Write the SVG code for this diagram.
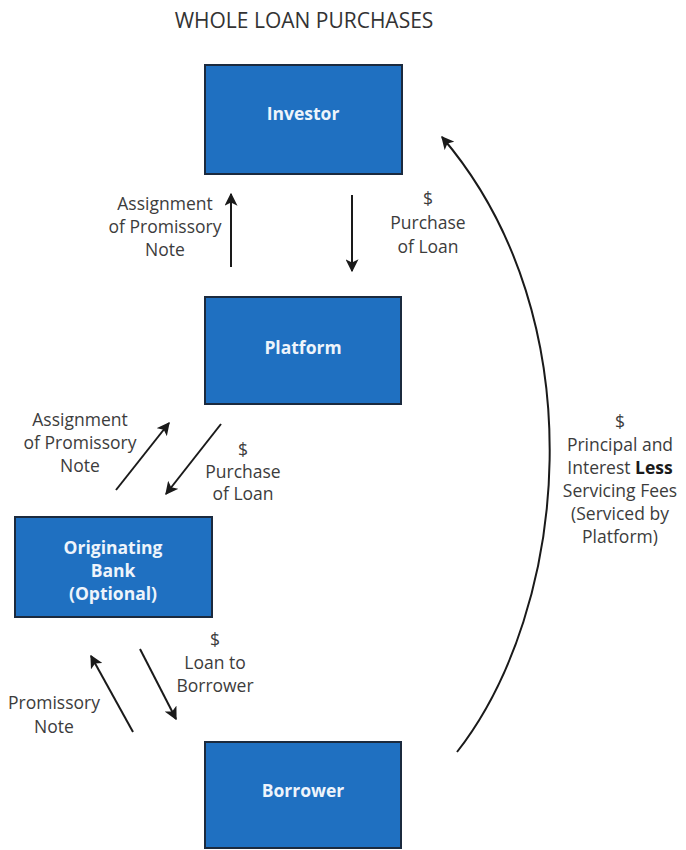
<svg xmlns="http://www.w3.org/2000/svg" width="686" height="850" viewBox="0 0 686 850">
  <defs>
    <marker id="arrow" viewBox="0 0 10 10" refX="9" refY="5" markerWidth="13" markerHeight="13" markerUnits="userSpaceOnUse" orient="auto">
      <path d="M0,0 L10,5 L0,10 L2.5,5 Z" fill="#1a1a1a"/>
    </marker>
    <style>
      .box { fill: #1f70c1; stroke: #1b2a3e; stroke-width: 2; }
      .boxText { font-family: "Open Sans", Lato, sans-serif; font-weight: bold; font-size: 17.5px; fill: #eef4fb; text-anchor: middle; }
      .label { font-family: "Open Sans", Lato, sans-serif; font-size: 17.5px; fill: #3c3c3c; text-anchor: middle; }
      .title { font-family: "Open Sans", Lato, sans-serif; font-size: 21px; fill: #333333; text-anchor: middle; }
      .conn { fill: none; stroke: #1a1a1a; stroke-width: 2; marker-end: url(#arrow); }
    </style>
  </defs>
  <rect width="686" height="850" fill="#ffffff"/>

  <text class="title" x="304" y="28">WHOLE LOAN PURCHASES</text>

  <g id="investor">
    <rect class="box" x="205" y="65" width="197" height="109"/>
    <text class="boxText" x="303" y="120">Investor</text>
  </g>
  <g id="platform">
    <rect class="box" x="205" y="297" width="196" height="107"/>
    <text class="boxText" x="303" y="354">Platform</text>
  </g>
  <g id="originating-bank">
    <rect class="box" x="15" y="517" width="197" height="100"/>
    <text class="boxText" x="113" y="554">Originating</text>
    <text class="boxText" x="113" y="577">Bank</text>
    <text class="boxText" x="113" y="600">(Optional)</text>
  </g>
  <g id="borrower">
    <rect class="box" x="205" y="742" width="196" height="106"/>
    <text class="boxText" x="303" y="797">Borrower</text>
  </g>

  <g id="connectors">
    <line class="conn" x1="231" y1="267" x2="231" y2="194"/>
    <line class="conn" x1="352" y1="195" x2="352" y2="271"/>
    <line class="conn" x1="116" y1="490" x2="169" y2="423"/>
    <line class="conn" x1="221" y1="424" x2="166" y2="494"/>
    <line class="conn" x1="140" y1="649" x2="176" y2="719"/>
    <line class="conn" x1="133" y1="732" x2="91" y2="656"/>
    <path class="conn" d="M457,752 C568,610 598,320 442,137"/>
  </g>

  <g id="labels">
    <text class="label" x="165" y="210">Assignment</text>
    <text class="label" x="165" y="233">of Promissory</text>
    <text class="label" x="165" y="256">Note</text>

    <text class="label" x="428" y="205">$</text>
    <text class="label" x="428" y="229">Purchase</text>
    <text class="label" x="428" y="253">of Loan</text>

    <text class="label" x="80" y="426">Assignment</text>
    <text class="label" x="80" y="449">of Promissory</text>
    <text class="label" x="80" y="472">Note</text>

    <text class="label" x="243" y="456">$</text>
    <text class="label" x="243" y="478">Purchase</text>
    <text class="label" x="243" y="500">of Loan</text>

    <text class="label" x="215" y="646">$</text>
    <text class="label" x="215" y="669">Loan to</text>
    <text class="label" x="215" y="692">Borrower</text>

    <text class="label" x="54" y="709">Promissory</text>
    <text class="label" x="54" y="733">Note</text>

    <text class="label" x="620" y="428">$</text>
    <text class="label" x="620" y="451">Principal and</text>
    <text class="label" x="620" y="474">Interest <tspan font-weight="bold" fill="#1a1a1a">Less</tspan></text>
    <text class="label" x="620" y="497">Servicing Fees</text>
    <text class="label" x="620" y="520">(Serviced by</text>
    <text class="label" x="620" y="543">Platform)</text>
  </g>
</svg>
